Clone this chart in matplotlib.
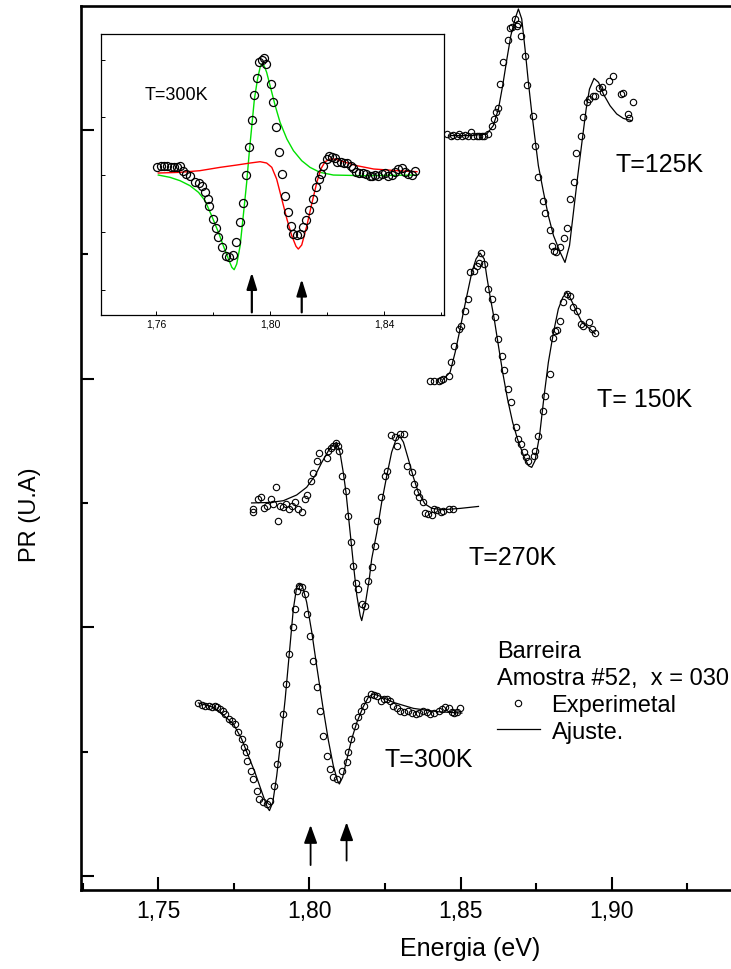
import matplotlib
matplotlib.use("Agg")
import matplotlib.pyplot as plt
from matplotlib.ticker import MultipleLocator, FuncFormatter, FixedLocator

plt.rcParams['font.family'] = ['Liberation Sans', 'DejaVu Sans']

# ---------------- T = 125 K ----------------
e125 = [1.8454, 1.8467, 1.8476, 1.8487, 1.8496, 1.8504, 1.8515, 1.8526, 1.8534, 1.8542,
        1.8553, 1.8562, 1.8570, 1.8578, 1.8592, 1.8603, 1.8611, 1.8617, 1.8622, 1.8631,
        1.8639, 1.8658, 1.8664, 1.8669, 1.8680, 1.8688, 1.8691, 1.8699, 1.8713, 1.8721,
        1.8739, 1.8746, 1.8757, 1.8772, 1.8779, 1.8794, 1.8801, 1.8809, 1.8816, 1.8827,
        1.8842, 1.8851, 1.8860, 1.8875, 1.8882, 1.8897, 1.8906, 1.8917, 1.8926, 1.8937,
        1.8945, 1.8956, 1.8967, 1.8972, 1.8989, 1.9003, 1.9030, 1.9036, 1.9052, 1.9058, 1.9071]
pr125 = [2.983, 2.974, 2.979, 2.977, 2.983, 2.974, 2.979, 2.977, 2.990, 2.974,
         2.977, 2.974, 2.977, 2.977, 2.983, 3.014, 3.044, 3.071, 3.087, 3.185,
         3.272, 3.363, 3.408, 3.412, 3.446, 3.419, 3.426, 3.376, 3.298, 3.181,
         3.055, 2.937, 2.809, 2.715, 2.666, 2.599, 2.535, 2.514, 2.508, 2.528,
         2.564, 2.604, 2.722, 2.789, 2.907, 2.977, 3.050, 3.111, 3.124, 3.138,
         3.135, 3.167, 3.171, 3.154, 3.198, 3.215, 3.144, 3.148, 3.064, 3.046, 3.111]
e125_fit = [1.8465, 1.8531, 1.8586, 1.8608, 1.8625, 1.8639, 1.8653, 1.8666, 1.8680, 1.8691,
            1.8702, 1.8713, 1.8724, 1.8735, 1.8746, 1.8757, 1.8774, 1.8790, 1.8807, 1.8829,
            1.8845, 1.8860, 1.8873, 1.8886, 1.8901, 1.8915, 1.8926, 1.8941, 1.8956, 1.8972,
            1.8994, 1.9016, 1.9038, 1.9066]
pr125_fit = [2.977, 2.977, 2.983, 3.017, 3.084, 3.178, 3.285, 3.379, 3.446, 3.486,
             3.446, 3.325, 3.191, 3.071, 2.963, 2.856, 2.749, 2.655, 2.575, 2.508,
             2.467, 2.535, 2.669, 2.803, 2.950, 3.084, 3.164, 3.207, 3.191, 3.144,
             3.097, 3.064, 3.046, 3.037]

# ---------------- T = 150 K ----------------
e150 = [1.8399, 1.8412, 1.8427, 1.8434, 1.8443, 1.8460, 1.8467, 1.8478, 1.8496, 1.8500,
        1.8515, 1.8526, 1.8531, 1.8545, 1.8553, 1.8562, 1.8567, 1.8578, 1.8592, 1.8603,
        1.8614, 1.8625, 1.8636, 1.8642, 1.8658, 1.8666, 1.8683, 1.8691, 1.8699, 1.8708,
        1.8717, 1.8724, 1.8741, 1.8746, 1.8757, 1.8772, 1.8779, 1.8796, 1.8805, 1.8812,
        1.8818, 1.8829, 1.8838, 1.8851, 1.8860, 1.8873, 1.8884, 1.8897, 1.8906, 1.8923,
        1.8934, 1.8945]
pr150 = [1.992, 1.992, 1.992, 1.996, 1.998, 2.012, 2.068, 2.130, 2.199, 2.210,
         2.273, 2.320, 2.427, 2.434, 2.454, 2.465, 2.505, 2.461, 2.360, 2.320,
         2.246, 2.159, 2.090, 2.036, 1.958, 1.905, 1.804, 1.757, 1.737, 1.704,
         1.683, 1.670, 1.690, 1.710, 1.771, 1.871, 1.931, 2.018, 2.162, 2.193,
         2.197, 2.233, 2.307, 2.340, 2.333, 2.287, 2.273, 2.220, 2.213, 2.226,
         2.199, 2.183]
e150_fit = [1.8443, 1.8465, 1.8482, 1.8496, 1.8509, 1.8523, 1.8537, 1.8551, 1.8564, 1.8578,
            1.8586, 1.8597, 1.8611, 1.8625, 1.8639, 1.8655, 1.8672, 1.8688, 1.8708, 1.8724,
            1.8735, 1.8746, 1.8761, 1.8776, 1.8790, 1.8807, 1.8823, 1.8838, 1.8851, 1.8864,
            1.8882, 1.8901, 1.8917, 1.8930, 1.8945]
pr150_fit = [1.998, 2.025, 2.106, 2.186, 2.266, 2.347, 2.427, 2.481, 2.505, 2.481,
             2.414, 2.333, 2.240, 2.132, 2.025, 1.918, 1.824, 1.757, 1.690, 1.650,
             1.643, 1.670, 1.771, 1.931, 2.065, 2.186, 2.280, 2.327, 2.347, 2.320,
             2.273, 2.226, 2.210, 2.197, 2.179]

# ---------------- T = 270 K ----------------
e270 = [1.7815, 1.7813, 1.7831, 1.7839, 1.7850, 1.7859, 1.7872, 1.7881, 1.7890, 1.7897,
        1.7903, 1.7912, 1.7923, 1.7931, 1.7942, 1.7953, 1.7964, 1.7975, 1.7986, 1.7993,
        1.8004, 1.8011, 1.8026, 1.8033, 1.8057, 1.8063, 1.8071, 1.8079, 1.8088, 1.8093,
        1.8099, 1.8107, 1.8121, 1.8129, 1.8137, 1.8143, 1.8154, 1.8162, 1.8173, 1.8184,
        1.8195, 1.8206, 1.8217, 1.8225, 1.8236, 1.8250, 1.8258, 1.8269, 1.8283, 1.8289,
        1.8300, 1.8313, 1.8322, 1.8338, 1.8346, 1.8355, 1.8364, 1.8377, 1.8382, 1.8393,
        1.8405, 1.8412, 1.8423, 1.8434, 1.8443, 1.8460, 1.8476]
pr270 = [1.462, 1.476, 1.516, 1.523, 1.478, 1.489, 1.516, 1.496, 1.563, 1.429,
         1.486, 1.482, 1.496, 1.476, 1.486, 1.505, 1.476, 1.465, 1.516, 1.532,
         1.590, 1.620, 1.670, 1.700, 1.679, 1.710, 1.720, 1.730, 1.741, 1.730,
         1.710, 1.610, 1.549, 1.446, 1.344, 1.248, 1.178, 1.154, 1.094, 1.087,
         1.188, 1.241, 1.328, 1.426, 1.523, 1.610, 1.630, 1.773, 1.764, 1.730,
         1.777, 1.777, 1.650, 1.623, 1.576, 1.543, 1.523, 1.502, 1.460, 1.456,
         1.452, 1.476, 1.473, 1.462, 1.469, 1.476, 1.476]
e270_fit = [1.7809, 1.7870, 1.7914, 1.7958, 1.7991, 1.8019, 1.8041, 1.8063, 1.8082, 1.8090,
            1.8101, 1.8112, 1.8121, 1.8129, 1.8137, 1.8146, 1.8157, 1.8168, 1.8173, 1.8184,
            1.8198, 1.8206, 1.8223, 1.8239, 1.8256, 1.8272, 1.8289, 1.8297, 1.8311, 1.8327,
            1.8344, 1.8360, 1.8382, 1.8405, 1.8443, 1.8498, 1.8559]
pr270_fit = [1.500, 1.502, 1.509, 1.532, 1.563, 1.610, 1.663, 1.710, 1.737, 1.744,
             1.704, 1.623, 1.543, 1.449, 1.355, 1.248, 1.127, 1.047, 1.027, 1.087,
             1.194, 1.275, 1.382, 1.502, 1.610, 1.704, 1.764, 1.773, 1.744, 1.677,
             1.603, 1.543, 1.496, 1.478, 1.473, 1.478, 1.486]

# ---------------- T = 300 K ----------------
e300 = [1.7633, 1.7644, 1.7655, 1.7669, 1.7677, 1.7688, 1.7696, 1.7705, 1.7713, 1.7721,
        1.7735, 1.7743, 1.7754, 1.7765, 1.7776, 1.7784, 1.7791, 1.7795, 1.7806, 1.7815,
        1.7826, 1.7835, 1.7848, 1.7861, 1.7870, 1.7883, 1.7892, 1.7900, 1.7912, 1.7923,
        1.7931, 1.7945, 1.7953, 1.7960, 1.7967, 1.7975, 1.7986, 1.7993, 1.8002, 1.8013,
        1.8026, 1.8035, 1.8046, 1.8057, 1.8068, 1.8077, 1.8090, 1.8107, 1.8123, 1.8129,
        1.8137, 1.8151, 1.8162, 1.8170, 1.8179, 1.8190, 1.8203, 1.8214, 1.8225, 1.8236,
        1.8247, 1.8258, 1.8267, 1.8278, 1.8289, 1.8300, 1.8313, 1.8327, 1.8338, 1.8353,
        1.8364, 1.8375, 1.8388, 1.8399, 1.8412, 1.8427, 1.8438, 1.8449, 1.8460, 1.8471,
        1.8478, 1.8487, 1.8498]
pr300 = [0.696, 0.689, 0.685, 0.685, 0.678, 0.685, 0.678, 0.671, 0.665, 0.651,
         0.631, 0.625, 0.611, 0.578, 0.551, 0.517, 0.497, 0.464, 0.424, 0.390,
         0.343, 0.310, 0.296, 0.290, 0.303, 0.363, 0.450, 0.531, 0.651, 0.772,
         0.893, 1.000, 1.074, 1.147, 1.167, 1.161, 1.134, 1.053, 0.966, 0.866,
         0.759, 0.665, 0.564, 0.484, 0.430, 0.397, 0.390, 0.424, 0.457, 0.497,
         0.551, 0.604, 0.638, 0.665, 0.685, 0.712, 0.732, 0.728, 0.722, 0.705,
         0.712, 0.712, 0.705, 0.685, 0.674, 0.665, 0.661, 0.665, 0.655, 0.651,
         0.655, 0.665, 0.658, 0.651, 0.655, 0.665, 0.671, 0.678, 0.674, 0.661,
         0.655, 0.658, 0.674]
e300_fit = [1.7633, 1.7683, 1.7716, 1.7749, 1.7776, 1.7798, 1.7820, 1.7843, 1.7861, 1.7868,
            1.7879, 1.7892, 1.7906, 1.7920, 1.7934, 1.7947, 1.7958, 1.7967, 1.7978, 1.7991,
            1.8008, 1.8024, 1.8044, 1.8063, 1.8079, 1.8093, 1.8099, 1.8110, 1.8124, 1.8140,
            1.8157, 1.8177, 1.8195, 1.8212, 1.8234, 1.8278, 1.8344, 1.8421, 1.8504]
pr300_fit = [0.696, 0.678, 0.647, 0.611, 0.551, 0.484, 0.417, 0.337, 0.276, 0.263,
             0.296, 0.403, 0.551, 0.712, 0.899, 1.074, 1.161, 1.174, 1.161, 1.101,
             0.980, 0.846, 0.685, 0.544, 0.444, 0.383, 0.370, 0.397, 0.470, 0.551,
             0.618, 0.678, 0.719, 0.732, 0.723, 0.698, 0.674, 0.661, 0.655]

# transition energies marked with arrows under the 300 K spectrum
trans_e = [1.8004, 1.8123]
trans_top = [0.205, 0.216]
trans_bottom = [0.044, 0.062]

# ---------------- inset: 300 K decomposed ----------------
e_in = [1.7605, 1.7616, 1.7628, 1.7640, 1.7651, 1.7663, 1.7675, 1.7684, 1.7696, 1.7705,
        1.7719, 1.7737, 1.7749, 1.7760, 1.7772, 1.7784, 1.7787, 1.7801, 1.7811, 1.7819,
        1.7830, 1.7846, 1.7857, 1.7871, 1.7881, 1.7895, 1.7906, 1.7916, 1.7927, 1.7936,
        1.7944, 1.7953, 1.7961, 1.7971, 1.7979, 1.7986, 1.8002, 1.8012, 1.8021, 1.8030,
        1.8041, 1.8053, 1.8064, 1.8073, 1.8082, 1.8094, 1.8105, 1.8115, 1.8126, 1.8138,
        1.8150, 1.8161, 1.8170, 1.8178, 1.8187, 1.8199, 1.8208, 1.8216, 1.8228, 1.8236,
        1.8248, 1.8260, 1.8271, 1.8283, 1.8290, 1.8302, 1.8313, 1.8325, 1.8337, 1.8349,
        1.8357, 1.8368, 1.8380, 1.8392, 1.8404, 1.8415, 1.8427, 1.8439, 1.8450, 1.8462,
        1.8474, 1.8485, 1.8497, 1.8509]
pr_in = [0.128, 0.145, 0.157, 0.157, 0.128, 0.128, 0.128, 0.145, 0.070, 0.012,
         -0.029, -0.122, -0.145, -0.191, -0.296, -0.423, -0.551, -0.771, -0.933, -1.090,
         -1.264, -1.409, -1.438, -1.397, -1.165, -0.817, -0.493, -0.006, 0.475, 0.957,
         1.385, 1.675, 1.965, 2.000, 2.023, 1.925, 1.577, 1.258, 0.823, 0.388,
         0.012, -0.365, -0.655, -0.887, -1.032, -1.049, -1.032, -0.916, -0.783, -0.609,
         -0.423, -0.220, -0.075, 0.012, 0.157, 0.272, 0.330, 0.301, 0.284, 0.226,
         0.214, 0.203, 0.203, 0.157, 0.110, 0.052, 0.029, 0.029, 0.012, -0.017,
         -0.017, -0.006, -0.017, 0.012, 0.029, -0.017, -0.006, 0.041, 0.099, 0.110,
         0.052, 0.012, -0.006, 0.070]
e_green = [1.7608, 1.7649, 1.7684, 1.7719, 1.7749, 1.7772, 1.7795, 1.7819, 1.7836, 1.7854,
           1.7866, 1.7874, 1.7883, 1.7895, 1.7906, 1.7918, 1.7927, 1.7936, 1.7945, 1.7956,
           1.7965, 1.7971, 1.7979, 1.7988, 1.8000, 1.8018, 1.8035, 1.8059, 1.8082, 1.8111,
           1.8140, 1.8175, 1.8222, 1.8327, 1.8515]
pr_green = [-0.006, -0.046, -0.104, -0.191, -0.307, -0.452, -0.713, -1.003, -1.235, -1.467,
            -1.612, -1.652, -1.554, -1.235, -0.713, -0.133, 0.388, 0.852, 1.316, 1.664,
            1.867, 1.925, 1.896, 1.780, 1.548, 1.200, 0.910, 0.620, 0.417, 0.243,
            0.128, 0.041, -0.006, -0.017, -0.006]
e_red = [1.7608, 1.7684, 1.7754, 1.7825, 1.7883, 1.7930, 1.7965, 1.7988, 1.8006, 1.8023,
         1.8041, 1.8059, 1.8076, 1.8091, 1.8099, 1.8111, 1.8129, 1.8146, 1.8164, 1.8178,
         1.8193, 1.8211, 1.8228, 1.8257, 1.8304, 1.8363, 1.8445, 1.8515]
pr_red = [0.029, 0.041, 0.070, 0.128, 0.168, 0.203, 0.226, 0.203, 0.128, -0.075,
          -0.423, -0.771, -1.061, -1.246, -1.293, -1.223, -0.887, -0.510, -0.133, 0.099,
          0.226, 0.272, 0.272, 0.226, 0.157, 0.099, 0.070, 0.052]
trans_in_e = [1.7936, 1.8111]
trans_in_top = [-1.699, -1.814]
trans_in_bottom = [-2.394, -2.394]

x_ticks = [1.75, 1.80, 1.85, 1.90]
x_ticks_in = [1.76, 1.80, 1.84]


def comma(v, pos=None):
    return f"{v:.2f}".replace('.', ',')


W, H = 731, 970
fig = plt.figure(figsize=(W / 100, H / 100), dpi=100)

# main axes (the right part runs past the figure edge)
L, R, T, B = 81.3, 858.7, 7.0, 890.7
ax = fig.add_axes([L / W, 1 - B / H, (R - L) / W, (B - T) / H])
ax.set_xlim(1.7246, 1.9816)
ax.set_ylim(-0.055, 3.498)

mk = dict(ls='none', marker='o', ms=4.6, mfc='none', mec='k', mew=0.8)
ln = dict(color='k', lw=0.9)

for e, p, ef, pf in [(e125, pr125, e125_fit, pr125_fit),
                     (e150, pr150, e150_fit, pr150_fit),
                     (e270, pr270, e270_fit, pr270_fit)]:
    ax.plot(ef, pf, **ln)
    ax.plot(e, p, **mk)
fit_line, = ax.plot(e300_fit, pr300_fit, **ln)
pts, = ax.plot(e300, pr300, **mk)

for e, yt, yb in zip(trans_e, trans_top, trans_bottom):
    ax.annotate('', xy=(e, yt), xytext=(e, yb),
                arrowprops=dict(arrowstyle='-|>,head_length=0.55,head_width=0.2',
                                color='k', lw=1.3, shrinkA=0, shrinkB=0,
                                mutation_scale=20))

lab = dict(fontsize=18, va='center', ha='left')
ax.text(1.9011, 2.863, 'T=125K', **lab)
ax.text(1.8950, 1.918, 'T= 150K', **lab)
ax.text(1.8525, 1.283, 'T=270K', **lab)
ax.text(1.8247, 0.470, 'T=300K', **lab)

leg = ax.legend([pts, fit_line], ['Experimetal', 'Ajuste.'],
                title='Barreira\nAmostra #52,  x = 030',
                loc='upper left', bbox_to_anchor=(1.8621, 0.949),
                bbox_transform=ax.transData, frameon=False,
                fontsize=17, title_fontsize=17, alignment='left',
                borderpad=0, borderaxespad=0, handlelength=1.8,
                handletextpad=0.5, labelspacing=0.2, numpoints=1)
leg.get_title().set_linespacing(1.3)

ax.xaxis.set_major_locator(FixedLocator(x_ticks))
ax.xaxis.set_minor_locator(MultipleLocator(0.025))
ax.xaxis.set_major_formatter(FuncFormatter(comma))
ax.yaxis.set_major_locator(MultipleLocator(1.0))
ax.yaxis.set_minor_locator(MultipleLocator(0.5))
ax.tick_params(which='major', direction='in', length=9.5, width=1.5,
               labelsize=16.5, pad=7)
ax.tick_params(which='minor', direction='in', length=5, width=1.5)
ax.tick_params(axis='y', labelleft=False)
ax.tick_params(top=False, right=False, which='both')
for s in ('left', 'bottom', 'top'):
    ax.spines[s].set_linewidth(1.9)
ax.spines['right'].set_visible(False)
ax.set_xlabel('Energia (eV)', fontsize=18, labelpad=10)
fig.text(30 / W, 1 - 515 / H, 'PR (U.A)', rotation=90, ha='center',
         va='center', fontsize=17)

# inset
axin = fig.add_axes([101 / W, 1 - 315.7 / H, 343 / W, 280.7 / H])
axin.set_zorder(5)
axin.set_xlim(1.7407, 1.861)
axin.set_ylim(-2.435, 2.447)
axin.plot(e_green, pr_green, color='#00e000', lw=1.0)
axin.plot(e_red, pr_red, color='#ff0000', lw=1.0)
axin.plot(e_in, pr_in, ls='none', marker='o', ms=5.8, mfc='none', mec='k', mew=0.9)
for e, yt, yb in zip(trans_in_e, trans_in_top, trans_in_bottom):
    axin.annotate('', xy=(e, yt), xytext=(e, yb),
                  arrowprops=dict(arrowstyle='-|>,head_length=0.55,head_width=0.17',
                                  color='k', lw=1.6, shrinkA=0, shrinkB=0,
                                  mutation_scale=18))
axin.text(1.7561, 1.403, 'T=300K', fontsize=13, va='center', ha='left')
axin.xaxis.set_major_locator(FixedLocator(x_ticks_in))
axin.xaxis.set_minor_locator(MultipleLocator(0.02))
axin.xaxis.set_major_formatter(FuncFormatter(comma))
axin.yaxis.set_major_locator(MultipleLocator(1.0))
axin.tick_params(which='major', direction='in', length=3, width=0.7,
                 labelsize=7.5, pad=3)
axin.tick_params(which='minor', direction='in', length=2, width=0.7)
axin.tick_params(axis='y', labelleft=False)
for s in axin.spines.values():
    s.set_linewidth(0.9)

fig.savefig('out.png', dpi=100)
